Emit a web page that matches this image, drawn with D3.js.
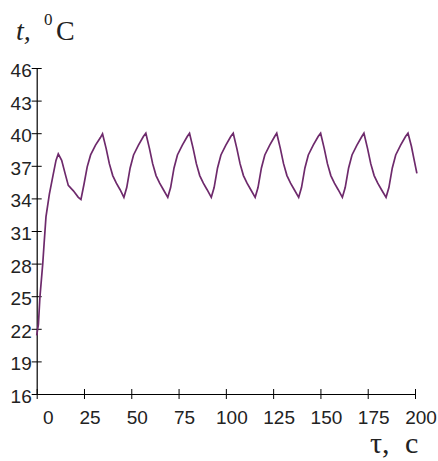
<!DOCTYPE html>
<html>
<head>
<script src="https://cdn.jsdelivr.net/npm/d3@7/dist/d3.min.js"></script>
<style>
body { margin: 0; background: #fff; overflow: hidden; }
.tick text { font-family: "Liberation Sans", Arial, sans-serif; font-size: 19px; fill: #222; }
.tick line, .domain { stroke: #000; }
.lbl { font-family: "Liberation Serif", "Times New Roman", serif; fill: #222; }
</style>
</head>
<body>
<svg width="438" height="461"></svg>
<script>
// time, s
const tau = [
  0, 0.9, 1.7, 3.2, 3.9, 4.9, 6.7, 8.5, 10.2, 11.4,
  13.2, 15.0, 16.7, 19.4, 22.0, 23.4,
  25.0, 26.7, 28.5, 31.1, 33.7, 34.8,
  36.7, 38.4, 40.2, 42.1, 44.1, 46.1,
  47.6, 49.4, 51.2, 53.8, 56.4, 57.7,
  59.6, 61.3, 63.1, 65.0, 67.0, 69.3,
  70.8, 72.6, 74.4, 77.0, 79.6, 80.8,
  82.7, 84.4, 86.2, 88.1, 90.1, 92.3,
  93.8, 95.6, 97.4, 100.0, 102.6, 103.9,
  105.8, 107.5, 109.3, 111.2, 113.2, 115.5,
  117.0, 118.8, 120.6, 123.2, 125.8, 126.9,
  128.8, 130.5, 132.3, 134.2, 136.2, 138.5,
  140.0, 141.8, 143.6, 146.2, 148.8, 150.1,
  152.0, 153.7, 155.5, 157.4, 159.4, 161.6,
  163.1, 164.9, 166.7, 169.3, 171.9, 173.0,
  174.9, 176.6, 178.4, 180.3, 182.3, 184.7,
  186.2, 188.0, 189.8, 192.4, 195.0, 196.3,
  198.1, 199.6, 201.0
];
// temperature, C
const temp = [
  21.4, 22.4, 24.9, 28.0, 29.8, 32.3, 34.4, 36.0, 37.5, 38.1,
  37.5, 36.3, 35.2, 34.7, 34.1, 33.9,
  35.3, 36.9, 38.0, 38.9, 39.6, 39.95,
  38.6, 37.2, 36.1, 35.4, 34.8, 34.1,
  35.0, 36.8, 38.0, 38.9, 39.7, 40.0,
  38.6, 37.2, 36.1, 35.4, 34.8, 34.1,
  35.0, 36.8, 38.0, 38.9, 39.7, 40.0,
  38.6, 37.2, 36.1, 35.4, 34.8, 34.1,
  35.0, 36.8, 38.0, 38.9, 39.7, 40.0,
  38.6, 37.2, 36.1, 35.4, 34.8, 34.1,
  35.0, 36.8, 38.0, 38.9, 39.7, 40.0,
  38.6, 37.2, 36.1, 35.4, 34.8, 34.1,
  35.0, 36.8, 38.0, 38.9, 39.7, 40.0,
  38.6, 37.2, 36.1, 35.4, 34.8, 34.1,
  35.0, 36.8, 38.0, 38.9, 39.7, 40.0,
  38.6, 37.2, 36.1, 35.4, 34.8, 34.1,
  35.0, 36.8, 38.0, 38.9, 39.7, 40.0,
  38.8, 37.5, 36.3
];
const xTicks = [0, 25, 50, 75, 100, 125, 150, 175, 200];
const yTicks = [16, 19, 22, 25, 28, 31, 34, 37, 40, 43, 46];

const svg = d3.select('svg');

const x = d3.scaleLinear().domain([0, 200]).range([36.7, 415]);
const y = d3.scaleLinear().domain([16, 46]).range([394, 68]);

// y axis, ticks cross the line
const yAxisG = svg.append('g')
  .attr('transform', `translate(${x(0)},0)`)
  .call(d3.axisLeft(y).tickValues(yTicks).tickSize(5).tickSizeOuter(0).tickPadding(0));
yAxisG.selectAll('.tick line').attr('x1', -5).attr('x2', 5);
yAxisG.selectAll('.tick text').attr('dy', '0.45em');

// x axis
const xAxisG = svg.append('g')
  .attr('transform', `translate(0,${y(16)})`)
  .call(d3.axisBottom(x).tickValues(xTicks).tickSize(5).tickSizeOuter(0).tickPadding(12));
xAxisG.selectAll('.tick line').attr('y1', -5).attr('y2', 5);
xAxisG.selectAll('.tick text').attr('dx', d => d === 0 ? 11 : 5.5);

svg.selectAll('.domain').attr('stroke-width', 1.2);

// curve
const line = d3.line().x((d, i) => x(tau[i])).y(d => y(d));
svg.append('path')
  .datum(temp)
  .attr('d', line)
  .attr('fill', 'none')
  .attr('stroke', '#6e2a6c')
  .attr('stroke-width', 1.7);

// axis titles
const yt = svg.append('g').attr('class', 'lbl');
yt.append('text').attr('x', 16).attr('y', 40).attr('font-size', 28).attr('font-style', 'italic').text('t,');
yt.append('text').attr('x', 44).attr('y', 25).attr('font-size', 17).text('0');
yt.append('text').attr('x', 56).attr('y', 40).attr('font-size', 28).text('C');

const xt = svg.append('g').attr('class', 'lbl');
xt.append('text').attr('x', 370).attr('y', 453).attr('font-size', 30).text('τ,');
xt.append('text').attr('x', 405).attr('y', 453).attr('font-size', 30).text('c');
</script>
</body>
</html>
